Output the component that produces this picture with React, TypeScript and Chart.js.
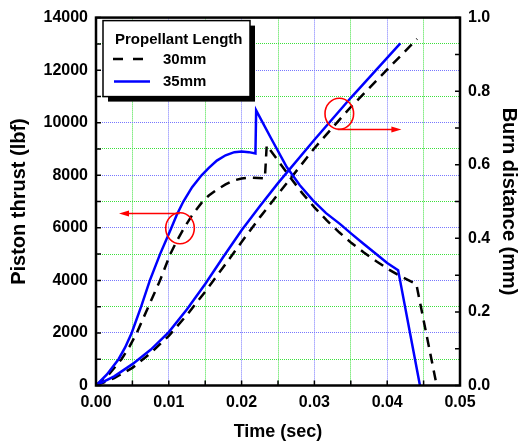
import React, { useEffect, useRef } from "react";
import { Chart, registerables } from "chart.js";

Chart.register(...registerables);

// ---------- data ----------
const thrust30Time = [0, 0.0018, 0.0035, 0.0046, 0.0056, 0.0072, 0.0088, 0.0102, 0.0111, 0.0121, 0.0133, 0.0145, 0.0155, 0.0166, 0.0178, 0.0189, 0.02, 0.0212, 0.0232, 0.02345, 0.025, 0.0266, 0.0283, 0.03, 0.0317, 0.0334, 0.0351, 0.0368, 0.0386, 0.0403, 0.042, 0.044, 0.0468];
const thrust30Lbf = [0, 430, 1000, 1480, 2000, 3000, 4000, 5000, 5500, 6000, 6520, 6950, 7230, 7450, 7650, 7800, 7880, 7910, 7880, 9140, 8560, 7950, 7330, 6780, 6280, 5830, 5420, 5060, 4710, 4400, 4130, 3860, 0];

const thrust35Time = [0, 0.0015, 0.0031, 0.004, 0.0049, 0.0062, 0.0074, 0.0088, 0.0102, 0.0111, 0.012, 0.0132, 0.0145, 0.0155, 0.0166, 0.0178, 0.019, 0.02, 0.021, 0.0219, 0.022, 0.0241, 0.0262, 0.028, 0.0298, 0.0316, 0.0335, 0.0351, 0.0367, 0.0384, 0.04, 0.0415, 0.0445];
const thrust35Lbf = [0, 420, 1000, 1450, 2000, 3000, 4000, 5000, 5900, 6500, 7000, 7550, 8000, 8280, 8560, 8760, 8880, 8905, 8880, 8830, 10467, 9380, 8313, 7620, 7048, 6560, 6150, 5770, 5403, 5020, 4660, 4390, 0];

const burn30Time = [0, 0.0025, 0.005, 0.0075, 0.01, 0.0125, 0.015, 0.0175, 0.02, 0.0225, 0.025, 0.03, 0.035, 0.0441];
const burn30Mm = [0, 0.02, 0.048, 0.088, 0.135, 0.192, 0.255, 0.322, 0.39, 0.457, 0.52, 0.645, 0.757, 0.942];

const burn35Time = [0, 0.0025, 0.005, 0.0075, 0.01, 0.0125, 0.015, 0.0175, 0.02, 0.0225, 0.025, 0.03, 0.035, 0.0418];
const burn35Mm = [0, 0.025, 0.058, 0.097, 0.145, 0.207, 0.276, 0.35, 0.422, 0.487, 0.55, 0.668, 0.782, 0.93];

const legendTitle = "Propellant Length";
const seriesNames = ["30mm", "35mm"];
const axisTitles = { x: "Time (sec)", y: "Piston thrust (lbf)", y2: "Burn distance (mm)" };

// annotation marks in data units (circle centres and arrows)
const circleMarks = [
  { x: 0.01154, y: 5984, axis: "y" },
  { x: 0.03342, y: 0.7387, axis: "y2" },
];
const arrowMarks = [
  { from: 0.0115, to: 0.00316, y: 6543, axis: "y" },
  { from: 0.0332, to: 0.04195, y: 0.696, axis: "y2" },
];

// ---------- style ----------
const FONT = "'Liberation Sans', Arial, Helvetica, sans-serif";
const BLUE = "#0000ff";
const GRID_BLUE = "#7777ff";
const GRID_GREEN = "#3ce03c";
const GRID_DASH = [1, 1];

const pts = (xs: number[], ys: number[]) => xs.map((x, i) => ({ x, y: ys[i] }));

const framePlugin = {
  id: "frameTicks",
  afterDatasetsDraw(chart: any) {
    const { ctx, chartArea: a, scales } = chart;
    ctx.save();
    ctx.strokeStyle = "#000";
    ctx.lineWidth = 1.5;
    ctx.beginPath();
    scales.x.ticks.forEach((t: any) => {
      const px = scales.x.getPixelForValue(t.value);
      ctx.moveTo(px, a.bottom);
      ctx.lineTo(px, a.bottom - 5);
    });
    scales.y.ticks.forEach((t: any) => {
      const py = scales.y.getPixelForValue(t.value);
      ctx.moveTo(a.left, py);
      ctx.lineTo(a.left + 5, py);
    });
    scales.y2.ticks.forEach((t: any) => {
      const py = scales.y2.getPixelForValue(t.value);
      ctx.moveTo(a.right, py);
      ctx.lineTo(a.right - 5, py);
    });
    ctx.stroke();
    ctx.lineWidth = 2.5;
    ctx.strokeRect(a.left, a.top, a.right - a.left, a.bottom - a.top);
    ctx.restore();
  },
  afterDraw(chart: any) {
    const { ctx, chartArea: a, scales } = chart;
    ctx.save();
    // annotations
    ctx.strokeStyle = "#ff0000";
    ctx.fillStyle = "#ff0000";
    ctx.lineWidth = 1.6;
    circleMarks.forEach((c) => {
      const cx = scales.x.getPixelForValue(c.x);
      const cy = scales[c.axis].getPixelForValue(c.y);
      ctx.beginPath();
      ctx.ellipse(cx, cy, 14.3, 15.5, 0, 0, Math.PI * 2);
      ctx.stroke();
    });
    arrowMarks.forEach((m) => {
      const x1 = scales.x.getPixelForValue(m.from);
      const x2 = scales.x.getPixelForValue(m.to);
      const y = scales[m.axis].getPixelForValue(m.y);
      const dir = Math.sign(x2 - x1);
      ctx.beginPath();
      ctx.moveTo(x1, y);
      ctx.lineTo(x2 - dir * 8, y);
      ctx.stroke();
      ctx.beginPath();
      ctx.moveTo(x2, y);
      ctx.lineTo(x2 - dir * 10, y - 3);
      ctx.lineTo(x2 - dir * 10, y + 3);
      ctx.closePath();
      ctx.fill();
    });

    // legend
    const lx = a.left + 7;
    const ly = a.top + 3;
    const w = 147;
    const h = 76;
    ctx.fillStyle = "#000";
    ctx.fillRect(lx + 5, ly + 5, w, h);
    ctx.fillStyle = "#fff";
    ctx.fillRect(lx, ly, w, h);
    ctx.strokeStyle = "#000";
    ctx.lineWidth = 1.5;
    ctx.strokeRect(lx, ly, w, h);

    ctx.fillStyle = "#000";
    ctx.font = `bold 15px ${FONT}`;
    ctx.textBaseline = "alphabetic";
    ctx.textAlign = "left";
    ctx.fillText(legendTitle, lx + 12, ly + 23);
    ctx.textBaseline = "middle";
    ctx.fillText(seriesNames[0], lx + 60, ly + 39);
    ctx.fillText(seriesNames[1], lx + 60, ly + 61);

    ctx.lineWidth = 2.5;
    ctx.setLineDash([10, 10]);
    ctx.beginPath();
    ctx.moveTo(lx + 10, ly + 38.5);
    ctx.lineTo(lx + 40, ly + 38.5);
    ctx.stroke();
    ctx.setLineDash([]);
    ctx.strokeStyle = BLUE;
    ctx.beginPath();
    ctx.moveTo(lx + 11, ly + 61);
    ctx.lineTo(lx + 47, ly + 61);
    ctx.stroke();
    ctx.restore();
  },
};

const gridColorByParity = (step: number) => (ctx: any) => {
  const v = ctx.tick ? ctx.tick.value : null;
  if (v === null || v === undefined) return "rgba(0,0,0,0)";
  const k = Math.round(v / step);
  const total = ctx.scale ? Math.round(ctx.scale.max / step) : -1;
  if (k === 0 || k === total) return "rgba(0,0,0,0)";
  return k % 2 === 0 ? GRID_BLUE : GRID_GREEN;
};

export default function App() {
  const ref = useRef<HTMLCanvasElement>(null);

  useEffect(() => {
    document.body.style.margin = "0";
    const tickFont = { family: FONT, size: 16, weight: "bold" as const };
    const chart = new Chart(ref.current as HTMLCanvasElement, {
      type: "line",
      data: {
        datasets: [
          {
            label: seriesNames[1] + " thrust",
            data: pts(thrust35Time, thrust35Lbf),
            borderColor: BLUE,
            borderWidth: 2.5,
            pointRadius: 0,
            tension: 0,
            yAxisID: "y",
          },
          {
            label: seriesNames[1] + " burn",
            data: pts(burn35Time, burn35Mm),
            borderColor: BLUE,
            borderWidth: 2.5,
            pointRadius: 0,
            tension: 0,
            yAxisID: "y2",
          },
          {
            label: seriesNames[0] + " thrust",
            data: pts(thrust30Time, thrust30Lbf),
            borderColor: "#000",
            borderWidth: 2.5,
            borderDash: [10, 7],
            pointRadius: 0,
            tension: 0,
            yAxisID: "y",
          },
          {
            label: seriesNames[0] + " burn",
            data: pts(burn30Time, burn30Mm),
            borderColor: "#000",
            borderWidth: 2.5,
            borderDash: [10, 7],
            pointRadius: 0,
            tension: 0,
            yAxisID: "y2",
          },
        ],
      },
      options: {
        responsive: false,
        animation: false,
        devicePixelRatio: 1,
        layout: { padding: { top: 17, left: 0, right: 0, bottom: 0 } },
        plugins: { legend: { display: false }, tooltip: { enabled: false } },
        scales: {
          x: {
            type: "linear",
            min: 0,
            max: 0.05,
            ticks: {
              stepSize: 0.005,
              autoSkip: false,
              maxRotation: 0,
              padding: 7,
              color: "#000",
              font: tickFont,
              callback: (v: any) => (Math.round(Number(v) / 0.005) % 2 === 0 ? Number(v).toFixed(2) : ""),
            },
            grid: { color: gridColorByParity(0.005), lineWidth: 1, drawTicks: false, borderDash: GRID_DASH },
            border: { display: false, dash: GRID_DASH },
            title: {
              display: true,
              text: axisTitles.x,
              color: "#000",
              font: { family: FONT, size: 18, weight: "bold" },
              padding: { top: 0, bottom: 1 },
            },
            afterFit: (s: any) => {
              s.height = 58.5;
            },
          },
          y: {
            type: "linear",
            position: "left",
            min: 0,
            max: 14000,
            ticks: {
              stepSize: 1000,
              autoSkip: false,
              padding: 8,
              color: "#000",
              font: tickFont,
              callback: (v: any) => (Math.round(Number(v) / 1000) % 2 === 0 ? String(v) : ""),
            },
            grid: { color: gridColorByParity(1000), lineWidth: 1, drawTicks: false, borderDash: GRID_DASH },
            border: { display: false, dash: GRID_DASH },
            title: {
              display: true,
              text: axisTitles.y,
              color: "#000",
              font: { family: FONT, size: 20, weight: "bold" },
              padding: { top: 7, bottom: 0 },
            },
            afterFit: (s: any) => {
              s.width = 96;
            },
          },
          y2: {
            type: "linear",
            position: "right",
            min: 0,
            max: 1,
            ticks: {
              stepSize: 0.1,
              autoSkip: false,
              padding: 8,
              color: "#000",
              font: tickFont,
              callback: (v: any) => (Math.round(Number(v) * 10) % 2 === 0 ? Number(v).toFixed(1) : ""),
            },
            grid: { drawOnChartArea: false, drawTicks: false },
            border: { display: false },
            title: {
              display: true,
              text: axisTitles.y2,
              color: "#000",
              font: { family: FONT, size: 20, weight: "bold" },
              padding: { top: 0, bottom: 0 },
            },
            afterFit: (s: any) => {
              s.width = 61;
            },
          },
        },
      } as any,
      plugins: [framePlugin],
    });
    return () => chart.destroy();
  }, []);

  return (
    <div style={{ width: 521, height: 444 }}>
      <canvas ref={ref} width={521} height={444} style={{ display: "block" }} />
    </div>
  );
}
